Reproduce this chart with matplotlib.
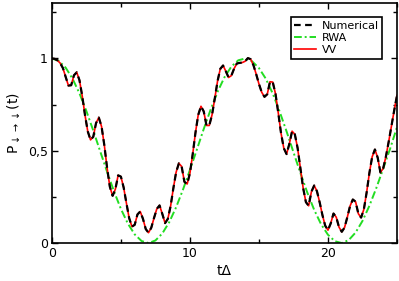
"""
spin flip probability: numerical vs RWA vs VV
"""

import matplotlib
matplotlib.use("Agg")
import matplotlib.pyplot as plt
import numpy as np

# sample times (tDelta)
t_fine = np.round(np.arange(0, 25.01, 0.2), 1)
t_rwa = np.round(np.arange(0, 25.01, 0.5), 1)

# values
numerical = [
    1.000, 0.998, 0.990, 0.975, 0.948, 0.900, 0.853, 0.855, 0.909, 0.925,
    0.882, 0.796, 0.693, 0.605, 0.559, 0.576, 0.650, 0.680, 0.631, 0.530,
    0.407, 0.305, 0.256, 0.292, 0.367, 0.360, 0.301, 0.216, 0.135, 0.089,
    0.099, 0.155, 0.171, 0.131, 0.076, 0.056, 0.083, 0.136, 0.185, 0.204,
    0.158, 0.108, 0.131, 0.200, 0.297, 0.384, 0.432, 0.415, 0.332, 0.320,
    0.378, 0.481, 0.597, 0.694, 0.741, 0.713, 0.637, 0.637, 0.694, 0.783,
    0.877, 0.944, 0.962, 0.931, 0.897, 0.907, 0.945, 0.973, 0.976, 0.978,
    0.985, 1.002, 0.996, 0.964, 0.915, 0.862, 0.817, 0.792, 0.806, 0.874,
    0.872, 0.808, 0.705, 0.595, 0.514, 0.482, 0.537, 0.606, 0.589, 0.515,
    0.407, 0.299, 0.222, 0.202, 0.278, 0.312, 0.281, 0.220, 0.151, 0.094,
    0.070, 0.107, 0.160, 0.140, 0.086, 0.061, 0.084, 0.140, 0.201, 0.236,
    0.224, 0.159, 0.138, 0.183, 0.274, 0.380, 0.467, 0.507, 0.463, 0.382,
    0.405, 0.470, 0.550, 0.635, 0.720, 0.800,
]
# VV lies on top of the numerical result
vv = list(numerical)

rwa = [
    1.000, 0.987, 0.950, 0.890, 0.811, 0.715, 0.609, 0.497, 0.386, 0.280,
    0.185, 0.106, 0.047, 0.011, 0.000, 0.014, 0.052, 0.113, 0.194, 0.290,
    0.396, 0.506, 0.618, 0.723, 0.819, 0.898, 0.956, 0.990, 1.000, 0.985,
    0.948, 0.890, 0.810, 0.712, 0.605, 0.492, 0.380, 0.274, 0.180, 0.102,
    0.045, 0.010, 0.000, 0.016, 0.057, 0.120, 0.202, 0.298, 0.403, 0.511,
    0.628,
]

yticks = [0, 0.5, 1]
yticklabels = ["0", "0,5", "1"]
xticks = [0, 10, 20]

fig = plt.figure(figsize=(3.99, 2.81), dpi=100)
ax = fig.add_axes([0.130, 0.135, 0.865, 0.854])

ax.plot(t_fine, vv, color="red", lw=1.2, label="VV", zorder=2)
ax.plot(t_rwa, rwa, color="#22dd22", lw=1.4, ls=(0, (4, 1.5, 1, 1.5)),
        label="RWA", zorder=1)
ax.plot(t_fine, numerical, color="black", lw=1.6, ls=(0, (3, 2)),
        label="Numerical", zorder=3)

ax.set_xlim(0, 25)
ax.set_ylim(0, 1.3)
ax.set_xticks(xticks)
ax.set_xticks([5, 15, 25], minor=True)
ax.set_yticks(yticks)
ax.set_yticklabels(yticklabels)
ax.set_yticks([0.25, 0.75, 1.25], minor=True)
ax.tick_params(which="both", direction="in", top=True, right=True,
               labelsize=9, width=1)
ax.tick_params(which="major", length=4.5, pad=3)
ax.tick_params(which="minor", length=3)
for s in ax.spines.values():
    s.set_linewidth(1.2)

ax.set_xlabel("t\u0394", fontsize=10, labelpad=3)
ax.set_ylabel(r"P$_{\downarrow\rightarrow\downarrow}$(t)", fontsize=10,
              labelpad=4)

handles, labels = ax.get_legend_handles_labels()
order = [2, 1, 0]
leg = ax.legend([handles[i] for i in order], [labels[i] for i in order],
                loc="upper right", bbox_to_anchor=(0.957, 0.94),
                fontsize=8, fancybox=False, framealpha=1,
                edgecolor="black", handlelength=2.0, borderpad=0.3,
                labelspacing=0.2, handletextpad=0.5, borderaxespad=0)
leg.get_frame().set_linewidth(1.2)

fig.savefig("out.png", dpi=100)
